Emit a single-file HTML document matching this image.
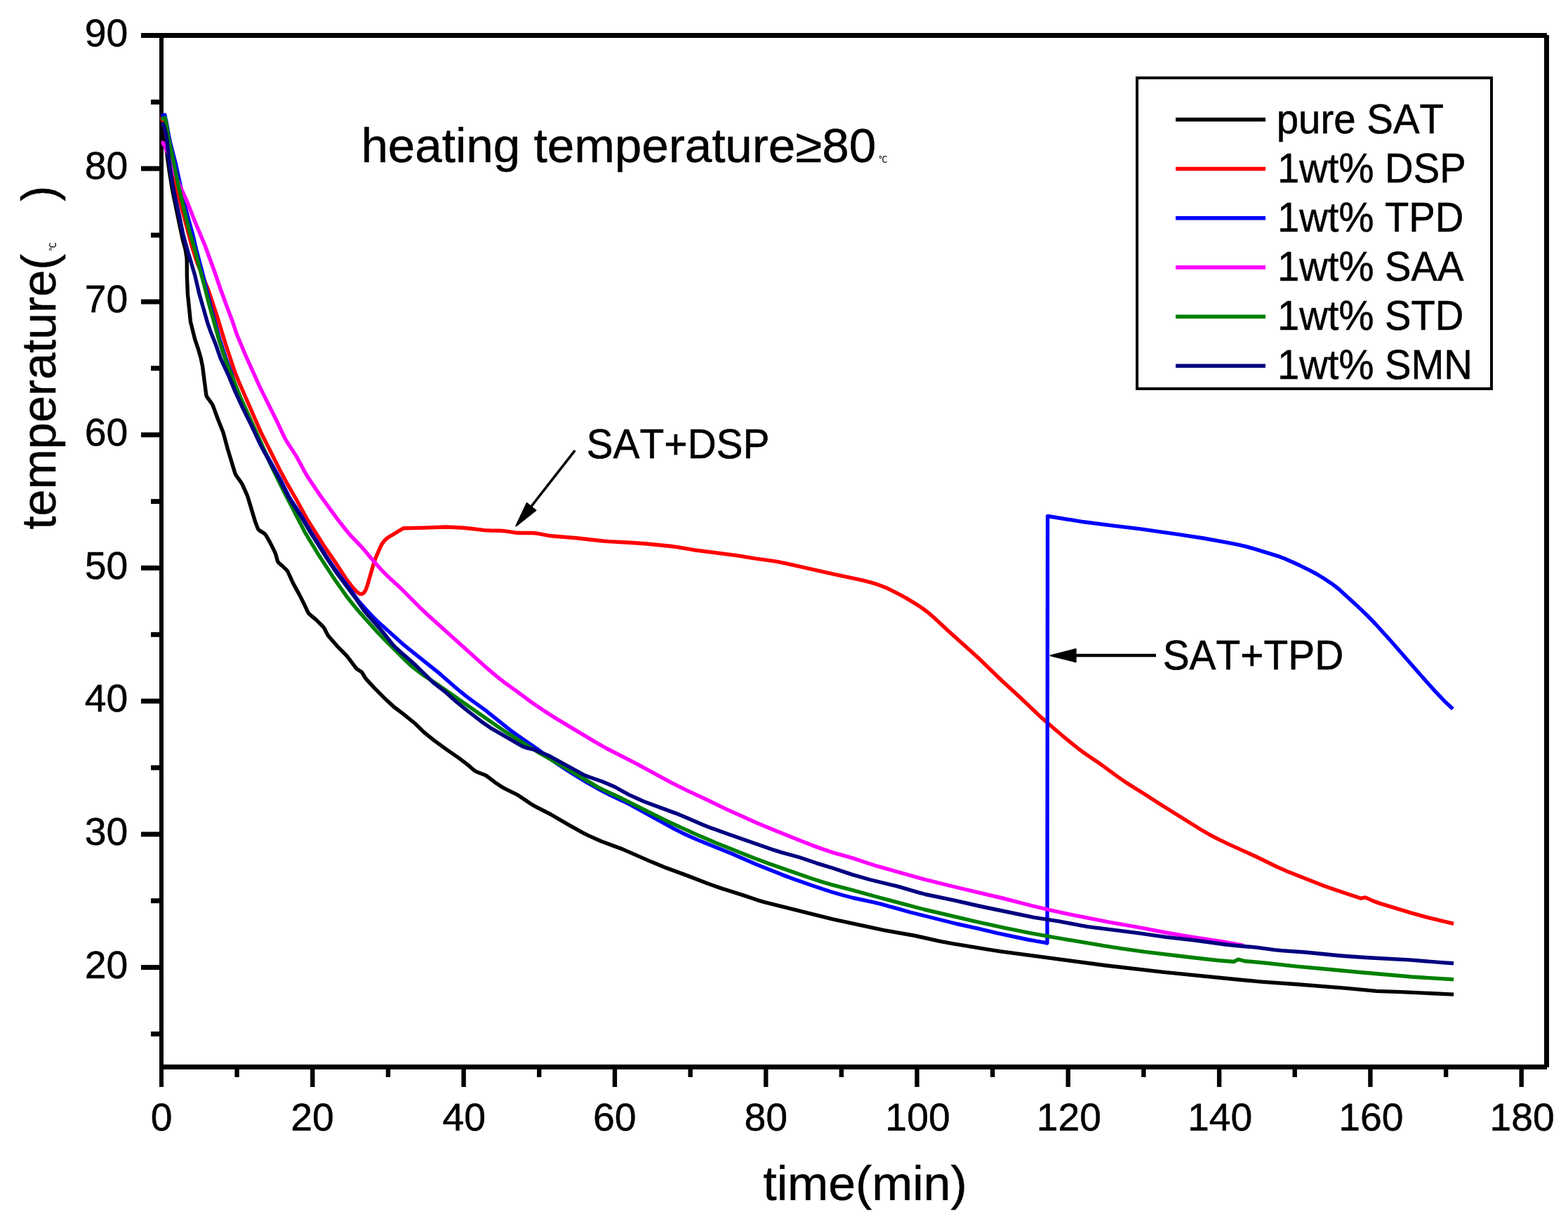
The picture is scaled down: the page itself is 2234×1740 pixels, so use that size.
<!DOCTYPE html>
<html lang="en">
<head>
<meta charset="utf-8">
<title>Cooling curves of SAT with nucleating agents</title>
<style>
html,body{margin:0;padding:0;background:#fff;}
body{width:2234px;height:1740px;overflow:hidden;}
svg{display:block;}
text{font-family:"Liberation Sans", "Noto Sans CJK SC", sans-serif;fill:#000;stroke:#000;stroke-width:0.5px;font-kerning:none;}
.t56{font-size:56px;}
.t70{font-size:70px;}
.deg{font-size:12px;stroke-width:0.2px;}
</style>
</head>
<body>
<svg width="2234" height="1740" viewBox="0 0 2234 1740" role="img" aria-label="Temperature versus time cooling curves">
<rect x="0" y="0" width="2234" height="1740" fill="#fff"/>
<g fill="#000">
<rect x="201" y="47" width="2003" height="7"/>
<rect x="227" y="47" width="6" height="1502"/>
<rect x="227" y="1517" width="1977" height="7"/>
<rect x="2200" y="50" width="7" height="1471"/>
<rect x="215" y="1470.0" width="13" height="7"/>
<rect x="201" y="1375.1" width="27" height="7"/>
<rect x="215" y="1280.2" width="13" height="7"/>
<rect x="201" y="1185.4" width="27" height="7"/>
<rect x="215" y="1090.5" width="13" height="7"/>
<rect x="201" y="995.6" width="27" height="7"/>
<rect x="215" y="900.8" width="13" height="7"/>
<rect x="201" y="805.9" width="27" height="7"/>
<rect x="215" y="711.1" width="13" height="7"/>
<rect x="201" y="616.2" width="27" height="7"/>
<rect x="215" y="521.3" width="13" height="7"/>
<rect x="201" y="426.5" width="27" height="7"/>
<rect x="215" y="331.6" width="13" height="7"/>
<rect x="201" y="236.7" width="27" height="7"/>
<rect x="215" y="141.9" width="13" height="7"/>
<rect x="334.4" y="1523" width="6.4" height="12"/>
<rect x="442.1" y="1523" width="6.4" height="26"/>
<rect x="549.8" y="1523" width="6.4" height="12"/>
<rect x="657.4" y="1523" width="6.4" height="26"/>
<rect x="765.0" y="1523" width="6.4" height="12"/>
<rect x="872.7" y="1523" width="6.4" height="26"/>
<rect x="980.4" y="1523" width="6.4" height="12"/>
<rect x="1088.0" y="1523" width="6.4" height="26"/>
<rect x="1195.6" y="1523" width="6.4" height="12"/>
<rect x="1303.3" y="1523" width="6.4" height="26"/>
<rect x="1411.0" y="1523" width="6.4" height="12"/>
<rect x="1518.6" y="1523" width="6.4" height="26"/>
<rect x="1626.2" y="1523" width="6.4" height="12"/>
<rect x="1733.9" y="1523" width="6.4" height="26"/>
<rect x="1841.5" y="1523" width="6.4" height="12"/>
<rect x="1949.2" y="1523" width="6.4" height="26"/>
<rect x="2056.9" y="1523" width="6.4" height="12"/>
<rect x="2164.5" y="1523" width="6.4" height="26"/>
</g>
<g fill="none" stroke-width="5.4" stroke-linejoin="round" stroke-linecap="butt">
<polyline stroke="#000000" points="230.5,170.0 233.8,189.7 241.4,245.3 245.6,270.9 256.5,323.8 260.8,343.4 264.0,355.0 265.9,366.8 266.2,370.8 266.4,394.8 267.4,418.8 271.5,458.6 277.8,483.8 282.3,497.1 286.2,510.5 288.6,522.3 293.7,562.0 294.1,563.9 294.9,565.7 302.0,575.3 303.7,578.9 310.6,597.7 318.0,616.3 324.3,639.5 334.7,673.9 336.4,677.5 343.4,687.3 345.4,690.7 352.0,705.3 353.3,709.1 363.7,743.6 367.2,752.9 368.2,754.6 369.6,755.9 376.4,760.1 377.8,761.4 379.0,763.0 384.9,773.4 391.2,785.9 392.7,789.6 395.4,799.2 396.2,801.0 397.5,802.5 402.1,806.4 407.9,811.9 409.2,813.3 410.2,815.0 417.7,831.4 427.3,848.9 434.5,863.3 438.7,872.3 439.7,874.0 441.1,875.4 450.3,883.1 460.2,893.0 461.5,894.5 462.5,896.2 466.1,903.4 468.2,906.7 480.0,920.3 494.1,934.6 507.3,952.1 508.7,953.4 513.8,956.7 515.3,957.9 516.5,959.5 520.6,966.3 523.2,969.4 534.1,981.1 546.8,993.9 561.4,1007.5 574.2,1017.2 591.3,1031.0 604.2,1043.6 618.1,1054.9 635.9,1067.9 654.0,1080.4 666.8,1090.1 675.8,1098.0 677.5,1099.1 679.3,1099.9 692.3,1105.0 705.0,1114.7 713.2,1120.3 718.4,1123.3 738.1,1133.2 756.3,1145.5 761.5,1148.6 784.6,1160.5 810.5,1175.7 829.7,1186.4 838.6,1190.9 856.9,1199.0 886.9,1210.1 929.1,1228.6 949.5,1236.9 981.4,1248.6 1009.4,1259.5 1028.3,1266.1 1056.9,1275.1 1079.6,1282.8 1089.2,1285.7 1186.3,1309.9 1260.6,1325.8 1304.0,1333.5 1339.1,1341.4 1356.8,1344.7 1408.1,1353.2 1425.9,1355.9 1576.7,1376.0 1658.2,1385.4 1761.7,1395.8 1797.6,1399.1 1845.5,1402.5 1919.3,1408.4 1961.1,1412.4 1997.1,1413.6 2071.1,1417.1"/>
<polyline stroke="#ff0000" points="230.0,166.0 233.3,177.6 235.1,185.3 240.6,212.8 248.2,254.2 255.4,283.3 273.4,351.0 278.8,368.2 280.8,373.9 295.9,410.9 298.0,416.6 309.9,452.7 321.6,491.0 334.2,528.9 339.4,542.0 371.4,615.4 398.3,669.0 409.7,690.2 423.7,714.5 437.1,739.1 462.8,779.6 477.6,801.1 492.9,824.5 501.3,835.7 505.2,840.2 508.1,843.0 511.2,845.5 512.8,846.3 514.5,846.6 516.1,846.3 517.6,845.4 518.9,844.0 520.0,842.4 521.8,838.9 523.1,835.2 532.0,804.4 533.9,798.7 536.8,791.3 541.6,780.3 544.3,775.0 548.0,770.2 550.8,767.5 552.4,766.3 574.6,752.8 604.6,752.1 634.6,751.0 642.6,751.2 660.6,752.3 670.5,753.2 690.4,755.6 698.4,756.0 712.4,756.3 718.3,756.7 736.1,759.3 742.0,759.5 756.0,759.4 762.0,759.8 767.9,760.6 779.6,762.9 785.5,763.8 821.4,766.8 857.2,770.8 867.2,771.6 897.2,773.2 919.1,774.7 956.9,778.5 964.9,779.6 988.5,783.7 1050.0,791.6 1075.7,795.8 1097.5,798.8 1107.3,800.4 1123.0,803.7 1187.4,818.2 1228.6,826.8 1242.1,830.4 1249.7,832.8 1257.2,835.5 1264.6,838.6 1271.8,842.1 1282.5,847.6 1291.2,852.4 1301.5,858.6 1309.9,863.9 1316.5,868.5 1322.9,873.3 1331.9,881.2 1351.0,898.9 1395.5,939.1 1427.1,969.8 1453.6,994.1 1481.2,1020.3 1490.1,1028.3 1520.6,1054.2 1537.8,1068.0 1547.5,1075.0 1569.0,1089.6 1593.2,1107.4 1604.7,1115.4 1630.1,1131.3 1653.7,1146.5 1711.4,1182.5 1723.5,1189.5 1737.7,1196.9 1750.3,1202.9 1788.6,1220.3 1819.2,1235.2 1832.0,1240.9 1885.9,1262.3 1897.2,1266.3 1939.0,1280.2 1945.3,1278.9 1956.3,1283.9 1965.8,1287.4 2010.3,1300.9 2031.8,1306.9 2071.1,1316.4"/>
<polyline stroke="#0000ff" points="229.5,165.5 234.7,163.7 237.3,175.4 240.5,193.2 242.5,203.0 250.5,234.0 259.9,277.0 264.9,298.4 270.0,317.8 274.9,335.1 279.4,354.6 287.7,385.6 299.5,434.2 313.2,484.4 321.3,509.1 329.8,531.6 331.5,537.3 336.0,554.8 338.6,562.3 348.3,584.3 359.8,607.6 371.7,633.0 384.0,655.9 399.7,683.8 411.4,707.0 414.4,712.3 428.7,734.0 443.0,758.1 465.5,793.6 471.0,801.9 481.3,816.7 497.1,837.4 508.7,853.7 512.4,858.4 529.9,877.6 537.0,884.7 574.2,918.1 627.3,960.7 649.9,980.5 663.8,991.9 671.8,997.9 691.3,1011.9 727.2,1040.7 745.2,1053.4 765.0,1067.0 792.3,1087.3 807.3,1097.3 819.1,1104.8 836.3,1115.1 850.2,1123.0 867.9,1132.4 887.8,1141.7 896.8,1146.2 960.0,1180.8 972.4,1187.2 985.2,1193.0 998.0,1198.6 1042.6,1216.5 1077.4,1231.7 1114.6,1246.6 1129.6,1252.2 1156.0,1261.5 1173.1,1267.3 1186.4,1271.5 1201.8,1276.0 1215.4,1279.5 1242.8,1285.4 1254.4,1288.2 1266.0,1291.3 1296.8,1300.0 1362.9,1316.5 1394.2,1323.3 1421.4,1329.8 1464.5,1339.0 1476.3,1341.2 1488.1,1343.1 1492.0,1344.0 1492.6,735.5 1544.0,743.8 1583.7,748.9 1623.5,753.6 1681.0,761.8 1714.6,767.0 1744.2,772.3 1763.8,776.2 1775.5,778.9 1787.1,782.2 1813.9,790.3 1823.4,793.4 1830.8,796.3 1850.9,805.3 1865.3,812.4 1875.9,818.0 1886.1,824.3 1896.2,830.9 1902.6,835.6 1908.8,840.7 1931.0,860.9 1948.4,877.5 1959.5,889.0 1981.0,912.7 2025.8,964.0 2044.5,984.9 2058.3,999.4 2070.0,1010.3"/>
<polyline stroke="#ff00ff" points="229.5,203.5 232.5,203.5 235.0,208.9 238.8,218.2 246.6,240.9 252.5,255.8 255.6,263.2 267.2,288.6 277.3,314.8 292.0,349.8 305.1,385.5 314.2,412.0 325.2,442.1 330.9,457.0 337.2,476.0 349.5,505.5 370.0,551.1 394.1,599.5 405.1,623.0 409.1,630.0 422.2,650.1 435.5,674.7 439.6,681.6 455.3,704.8 481.2,740.3 492.3,754.5 500.0,763.7 516.7,780.9 533.4,800.9 545.4,814.3 551.1,819.9 568.8,836.2 599.9,867.3 608.6,875.5 696.4,954.4 707.1,963.4 719.7,973.3 737.6,986.1 756.8,1000.5 776.7,1013.9 791.9,1023.6 846.8,1056.6 864.1,1066.5 906.9,1088.3 956.1,1115.1 977.6,1125.9 1008.4,1140.2 1035.3,1153.4 1077.3,1172.3 1093.9,1179.3 1140.3,1197.9 1157.1,1204.6 1170.2,1209.4 1187.3,1215.1 1214.2,1222.6 1237.0,1230.3 1246.5,1233.3 1315.8,1252.9 1356.6,1263.0 1428.6,1280.0 1471.2,1291.0 1500.4,1297.9 1520.0,1302.2 1578.9,1313.9 1624.2,1321.8 1663.5,1329.5 1699.0,1335.4 1740.5,1341.7 1772.0,1347.5"/>
<polyline stroke="#008000" points="229.5,170.0 235.2,167.8 237.4,179.6 240.1,197.4 246.1,224.7 254.5,265.9 267.1,318.4 269.6,328.1 278.0,356.9 284.4,382.1 291.2,407.2 298.1,434.3 312.0,484.5 318.7,505.4 321.4,512.9 330.1,535.3 343.7,568.7 371.8,630.6 386.3,663.5 403.0,697.6 434.2,758.1 451.7,787.2 474.6,822.4 481.4,832.3 494.1,850.3 505.3,864.3 511.8,871.9 535.8,898.8 544.1,907.5 579.4,942.9 585.2,948.4 589.9,952.2 602.6,961.8 622.7,975.0 706.3,1033.4 717.9,1041.3 753.3,1063.8 770.4,1074.2 805.2,1093.9 851.6,1121.6 858.7,1125.2 885.9,1137.8 953.9,1171.8 997.6,1191.6 1019.7,1201.0 1075.5,1223.2 1092.3,1229.6 1156.5,1252.0 1171.7,1256.9 1187.1,1261.3 1214.2,1268.4 1248.9,1278.0 1316.6,1296.0 1390.6,1313.3 1431.6,1322.4 1468.8,1329.9 1502.3,1335.9 1573.3,1347.9 1597.0,1351.6 1630.7,1356.3 1696.2,1364.3 1734.0,1368.5 1757.9,1370.5 1764.3,1367.2 1772.6,1369.5 1802.6,1372.3 1846.6,1377.1 1886.7,1380.7 1936.7,1385.5 2010.9,1392.0 2071.1,1395.8"/>
<polyline stroke="#000080" points="229.6,176.0 232.5,177.0 235.5,186.5 237.5,196.3 240.5,226.2 245.3,259.8 250.0,283.4 255.7,308.7 260.9,334.2 266.8,355.4 277.6,391.9 284.0,419.1 296.1,461.4 300.8,474.6 307.5,491.3 314.0,510.2 325.8,535.6 335.8,559.6 345.8,581.4 358.3,606.5 371.0,633.7 383.4,656.6 398.1,682.7 411.7,709.4 414.8,714.6 428.1,734.6 441.3,757.0 455.2,779.0 468.1,799.2 480.4,817.4 506.8,852.7 519.1,870.8 546.8,902.4 560.5,919.7 564.7,923.9 590.3,946.2 617.4,972.9 633.2,985.1 651.2,1001.0 670.0,1016.0 685.8,1028.2 699.0,1037.3 744.0,1063.4 749.5,1065.5 759.2,1067.8 763.0,1068.9 781.4,1076.7 832.4,1104.5 837.9,1106.7 858.7,1114.0 871.6,1119.4 877.0,1122.0 896.2,1132.6 918.1,1142.5 963.2,1159.1 979.8,1165.9 1000.0,1174.7 1011.1,1179.2 1035.6,1188.0 1103.6,1211.7 1113.1,1214.6 1138.2,1221.5 1162.8,1229.8 1187.7,1237.5 1214.2,1246.4 1239.2,1253.5 1278.1,1262.9 1308.8,1271.9 1318.5,1274.5 1357.6,1282.7 1396.6,1291.5 1473.0,1307.4 1508.6,1312.9 1540.0,1318.9 1549.9,1320.6 1619.3,1329.4 1660.9,1335.4 1702.7,1340.0 1746.2,1346.0 1760.2,1347.5 1790.1,1350.1 1815.8,1353.6 1825.8,1354.6 1859.7,1357.0 1907.5,1361.7 1923.4,1363.0 1949.3,1364.7 2007.3,1367.9 2057.1,1371.9 2071.1,1372.8"/>
</g>
<text class="t56" transform="matrix(0.988,0,0,0.988,120.83,1393.85)">20</text>
<text class="t56" transform="matrix(0.988,0,0,0.988,120.83,1204.12)">30</text>
<text class="t56" transform="matrix(0.988,0,0,0.988,120.83,1014.39)">40</text>
<text class="t56" transform="matrix(0.988,0,0,0.988,120.83,824.64)">50</text>
<text class="t56" transform="matrix(0.988,0,0,0.988,120.83,634.93)">60</text>
<text class="t56" transform="matrix(0.988,0,0,0.988,120.83,445.20)">70</text>
<text class="t56" transform="matrix(0.988,0,0,0.988,120.83,255.47)">80</text>
<text class="t56" transform="matrix(0.988,0,0,0.988,120.83,65.74)">90</text>
<text class="t56" transform="matrix(0.988,0,0,0.988,214.66,1611.15)">0</text>
<text class="t56" transform="matrix(0.988,0,0,0.988,414.32,1611.14)">20</text>
<text class="t56" transform="matrix(0.988,0,0,0.988,630.39,1611.14)">40</text>
<text class="t56" transform="matrix(0.988,0,0,0.988,844.90,1611.14)">60</text>
<text class="t56" transform="matrix(0.988,0,0,0.988,1060.43,1611.14)">80</text>
<text class="t56" transform="matrix(0.988,0,0,0.988,1261.37,1611.14)">100</text>
<text class="t56" transform="matrix(0.988,0,0,0.988,1476.67,1611.15)">120</text>
<text class="t56" transform="matrix(0.988,0,0,0.988,1691.97,1611.15)">140</text>
<text class="t56" transform="matrix(0.988,0,0,0.988,1907.27,1611.15)">160</text>
<text class="t56" transform="matrix(0.988,0,0,0.988,2122.57,1611.15)">180</text>
<text class="t70" transform="matrix(0.996,0,0,0.968,1087.27,1710.35)">time(min)</text>
<text class="t70" transform="matrix(0,-0.98,0.968,0,79.25,754.53)">temperature(</text>
<text class="t70" transform="matrix(0,-0.94,0.968,0,79.25,286.79)">)</text>
<text class="deg" transform="matrix(0,-1,1,0,79.6,357.6)">℃</text>
<text class="t70" transform="matrix(0.988,0,0,0.968,514.40,231.15)">heating temperature≥80</text>
<text class="deg" x="1252.2" y="231.5">℃</text>
<text class="t56" transform="matrix(1.016,0,0,1.068,835.56,652.75)">SAT+DSP</text>
<text class="t56" transform="matrix(1.016,0,0,1.068,1656.66,953.75)">SAT+TPD</text>
<g stroke="#000" fill="#000" stroke-linejoin="round">
<line x1="819.2" y1="641.9" x2="752" y2="728" stroke-width="3.6"/>
<polygon stroke-width="2" points="735.3,749.4 750.6,717 763.4,727.3"/>
<line x1="1647" y1="934" x2="1530" y2="934" stroke-width="4.4"/>
<polygon stroke-width="2" points="1496.8,934.2 1532.7,925 1532.7,943.2"/>
</g>
<rect x="1620" y="111" width="505" height="443" fill="#fff" stroke="#000" stroke-width="4"/>
<rect x="1675" y="167.6" width="128" height="5.6" fill="#000000"/>
<text class="t56" transform="matrix(1.008,0,0,1.044,1818.69,189.55)">pure SAT</text>
<rect x="1675" y="237.8" width="128" height="5.6" fill="#ff0000"/>
<text class="t56" transform="matrix(1.004,0,0,1.044,1819.96,260.25)">1wt% DSP</text>
<rect x="1675" y="308.0" width="128" height="5.6" fill="#0000ff"/>
<text class="t56" transform="matrix(1.004,0,0,1.044,1819.96,330.27)">1wt% TPD</text>
<rect x="1675" y="378.2" width="128" height="5.6" fill="#ff00ff"/>
<text class="t56" transform="matrix(1.004,0,0,1.044,1819.96,400.25)">1wt% SAA</text>
<rect x="1675" y="448.4" width="128" height="5.6" fill="#008000"/>
<text class="t56" transform="matrix(1.004,0,0,1.044,1819.96,470.25)">1wt% STD</text>
<rect x="1675" y="518.6" width="128" height="5.6" fill="#000080"/>
<text class="t56" transform="matrix(1.004,0,0,1.044,1819.96,540.15)">1wt% SMN</text>
</svg>
</body>
</html>
